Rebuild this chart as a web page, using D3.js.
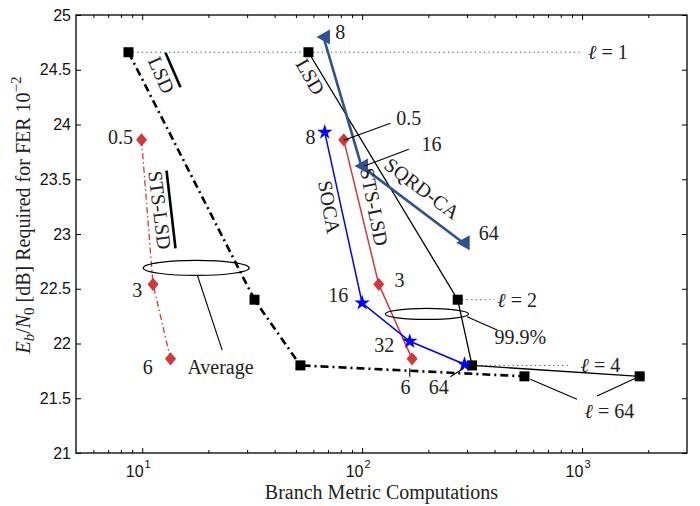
<!DOCTYPE html>
<html>
<head>
<meta charset="utf-8">
<script src="https://cdn.jsdelivr.net/npm/d3@7"></script>
<style>
  body { margin: 0; background: #fff; }
  svg { display: block; }
  .serif { font-family: "Liberation Serif", "DejaVu Serif", serif; font-size: 20px; fill: #222; }
  .tick-label { font-family: "Liberation Sans", Arial, sans-serif; font-size: 16px; fill: #111; }
</style>
</head>
<body>
<svg id="chart" width="700" height="506"></svg>
<script>
// branch metric computations (x) and Eb/N0 in dB (y)
const lsdAvgX = [8.66, 32.4, 52.4, 547];
const lsdAvgY = [24.66, 22.40, 21.80, 21.70];
const lsdPctX = [57.0, 272, 316, 1828];
const lsdPctY = [24.66, 22.40, 21.80, 21.70];
const stsAvgX = [9.93, 11.2, 13.45];
const stsAvgY = [23.86, 22.54, 21.86];
const stsPctX = [82.5, 119, 168.7];
const stsPctY = [23.86, 22.54, 21.86];
const socaX = [67.6, 100, 164.6, 292];
const socaY = [23.93, 22.37, 22.02, 21.81];
const sqrdX = [66.7, 99.3, 288];
const sqrdY = [24.80, 23.62, 22.92];

const yTicks = [21, 21.5, 22, 22.5, 23, 23.5, 24, 24.5, 25];
const xMajor = [10, 100, 1000];
const xMinor = [6, 7, 8, 9, 20, 30, 40, 50, 60, 70, 80, 90, 200, 300, 400, 500, 600, 700, 800, 900, 2000];

// ell = 1, 2, 4 dotted guides: [start x, end x, y, label x]
const ellGuides = [
  { t: "1", x0: 8.66, x1: 1000, y: 24.66, lx: 1065 },
  { t: "2", x0: 272, x1: 399, y: 22.40, lx: 412 },
  { t: "4", x0: 316, x1: 867, y: 21.80, lx: 985 }
];

const numLabels = [
  { t: "0.5", x: 7.97, y: 23.886 },
  { t: "3", x: 9.49, y: 22.489 },
  { t: "6", x: 10.6, y: 21.788 },
  { t: "8", x: 58.2, y: 23.889 },
  { t: "8", x: 79.6, y: 24.847 },
  { t: "16", x: 77.9, y: 22.443 },
  { t: "3", x: 147.7, y: 22.58 },
  { t: "32", x: 126.2, y: 21.986 },
  { t: "6", x: 157.4, y: 21.605 },
  { t: "64", x: 222.9, y: 21.605 },
  { t: "64", x: 376, y: 23.006 },
  { t: "0.5", x: 163, y: 24.06 },
  { t: "16", x: 206.5, y: 23.822 },
  { t: "Average", x: 22.7, y: 21.785 },
  { t: "99.9%", x: 524, y: 22.06 },
  { t: "\u2113 = 64", x: 1331, y: 21.384 }
];

const rotLabels = [
  { t: "LSD", x: 12.24, y: 24.452, a: 66 },
  { t: "STS-LSD", x: 12.05, y: 23.219, a: 83 },
  { t: "LSD", x: 58.2, y: 24.438, a: 60 },
  { t: "STS-LSD", x: 113.7, y: 23.247, a: 79 },
  { t: "SOCA", x: 71, y: 23.247, a: 80 },
  { t: "SQRD-CA", x: 187.4, y: 23.417, a: 37 }
];

// thin leader lines
const leaders = [
  [82.5, 23.856, 134.5, 24.011],
  [102.4, 23.62, 163, 23.774],
  [164.6, 21.774, 164.6, 21.697],
  [251.8, 21.697, 289.7, 21.774],
  [17.8, 22.626, 23.1, 21.94],
  [300, 22.245, 411, 22.123],
  [582, 21.673, 948, 21.49],
  [1170, 21.52, 1778, 21.69]
];
// thick style markers next to the left-hand labels
const styleBars = [
  [12.76, 24.656, 14.93, 24.34],
  [12.9, 23.578, 14.17, 22.869]
];
const ellipses = [
  { x: 17.6, y: 22.69, rx: 53, ry: 7.5 },
  { x: 197, y: 22.27, rx: 41.7, ry: 5.5 }
];

const margin = { left: 76, right: 13, top: 15, bottom: 53 };
const W = 700, H = 506;
const svg = d3.select("#chart");

const x = d3.scaleLog().domain([5, 3000]).range([margin.left, W - margin.right]);
const y = d3.scaleLinear().domain([21, 25]).range([H - margin.bottom, margin.top]);

const RED = "#d2373a", BLUE = "#0000ff", NAVY = "#2f5290";

// ell guides
const guideG = svg.append("g");
guideG.selectAll("line").data(ellGuides).join("line")
  .attr("x1", d => x(d.x0)).attr("x2", d => x(d.x1))
  .attr("y1", d => y(d.y)).attr("y2", d => y(d.y))
  .attr("stroke", "#444").attr("stroke-width", 1)
  .attr("stroke-dasharray", "1.2,3.3");
guideG.selectAll("text").data(ellGuides).join("text")
  .attr("class", "serif")
  .attr("x", d => x(d.lx)).attr("y", d => y(d.y))
  .attr("dominant-baseline", "central")
  .each(function (d) {
    const t = d3.select(this);
    t.append("tspan").attr("font-style", "italic").text("\u2113");
    t.append("tspan").text(" = " + d.t);
  });

function zip(xs, ys) { return xs.map((v, i) => [v, ys[i]]); }
const lineGen = d3.line().x(d => x(d[0])).y(d => y(d[1]));

function drawSeries(xs, ys, color, width, dash) {
  svg.append("path")
    .attr("d", lineGen(zip(xs, ys)))
    .attr("fill", "none")
    .attr("stroke", color)
    .attr("stroke-width", width)
    .attr("stroke-dasharray", dash || null);
}

drawSeries(lsdPctX, lsdPctY, "#000", 1.3);
drawSeries(stsPctX, stsPctY, RED, 1.5);
drawSeries(socaX, socaY, BLUE, 1.5);
drawSeries(sqrdX, sqrdY, NAVY, 2.6);
drawSeries(stsAvgX, stsAvgY, RED, 1.3, "6,3,1.5,3");
drawSeries(lsdAvgX, lsdAvgY, "#000", 2.6, "8,4,2,4");

// markers
function squares(xs, ys) {
  svg.append("g").selectAll("rect").data(zip(xs, ys)).join("rect")
    .attr("x", d => x(d[0]) - 5).attr("y", d => y(d[1]) - 5)
    .attr("width", 10).attr("height", 10).attr("fill", "#000");
}
function diamonds(xs, ys) {
  svg.append("g").selectAll("path").data(zip(xs, ys)).join("path")
    .attr("transform", d => `translate(${x(d[0])},${y(d[1])})`)
    .attr("d", "M0,-6.7L5.5,0L0,6.7L-5.5,0Z").attr("fill", RED);
}
function stars(xs, ys) {
  svg.append("g").selectAll("path").data(zip(xs, ys)).join("path")
    .attr("transform", d => `translate(${x(d[0])},${y(d[1])})`)
    .attr("d", d3.symbol(d3.symbolStar, 75)).attr("fill", BLUE);
}
function leftTriangles(xs, ys) {
  svg.append("g").selectAll("path").data(zip(xs, ys)).join("path")
    .attr("transform", d => `translate(${x(d[0])},${y(d[1])})`)
    .attr("d", "M-7,0L6.5,-7.5L6.5,7.5Z").attr("fill", NAVY);
}
squares(lsdPctX, lsdPctY);
squares(lsdAvgX, lsdAvgY);
diamonds(stsAvgX, stsAvgY);
diamonds(stsPctX, stsPctY);
stars(socaX, socaY);
leftTriangles(sqrdX, sqrdY);

// annotations
const annG = svg.append("g");
annG.selectAll("line.leader").data(leaders).join("line")
  .attr("class", "leader")
  .attr("x1", d => x(d[0])).attr("y1", d => y(d[1]))
  .attr("x2", d => x(d[2])).attr("y2", d => y(d[3]))
  .attr("stroke", "#000").attr("stroke-width", 1.1);
annG.selectAll("line.bar").data(styleBars).join("line")
  .attr("class", "bar")
  .attr("x1", d => x(d[0])).attr("y1", d => y(d[1]))
  .attr("x2", d => x(d[2])).attr("y2", d => y(d[3]))
  .attr("stroke", "#000").attr("stroke-width", 2.6);
annG.selectAll("ellipse").data(ellipses).join("ellipse")
  .attr("cx", d => x(d.x)).attr("cy", d => y(d.y))
  .attr("rx", d => d.rx).attr("ry", d => d.ry)
  .attr("fill", "none").attr("stroke", "#000").attr("stroke-width", 1.2);

annG.selectAll("text.num").data(numLabels).join("text")
  .attr("class", "serif num")
  .attr("x", d => x(d.x)).attr("y", d => y(d.y))
  .attr("text-anchor", "middle").attr("dominant-baseline", "central")
  .each(function (d) {
    const t = d3.select(this);
    if (d.t.startsWith("\u2113")) {
      t.append("tspan").attr("font-style", "italic").text("\u2113");
      t.append("tspan").text(d.t.slice(1));
    } else t.text(d.t);
  });

annG.selectAll("text.rot").data(rotLabels).join("text")
  .attr("class", "serif rot")
  .attr("transform", d => `translate(${x(d.x)},${y(d.y)}) rotate(${d.a})`)
  .attr("text-anchor", "middle").attr("dominant-baseline", "central")
  .text(d => d.t);

// axes box
const axG = svg.append("g");
const x0 = margin.left, x1 = W - margin.right, y0 = H - margin.bottom, y1 = margin.top;
axG.append("rect").attr("x", x0).attr("y", y1).attr("width", x1 - x0).attr("height", y0 - y1)
  .attr("fill", "none").attr("stroke", "#000").attr("stroke-width", 1.3);

const bottomAxis = d3.axisBottom(x).tickValues(xMajor).tickSizeInner(-5).tickSizeOuter(0).tickFormat("");
const topAxis = d3.axisTop(x).tickValues(xMajor).tickSizeInner(-5).tickSizeOuter(0).tickFormat("");
const bottomMinor = d3.axisBottom(x).tickValues(xMinor).tickSizeInner(-3).tickSizeOuter(0).tickFormat("");
const topMinor = d3.axisTop(x).tickValues(xMinor).tickSizeInner(-3).tickSizeOuter(0).tickFormat("");
const leftAxis = d3.axisLeft(y).tickValues(yTicks).tickSizeInner(-5).tickSizeOuter(0).tickFormat("");
const rightAxis = d3.axisRight(y).tickValues(yTicks).tickSizeInner(-5).tickSizeOuter(0).tickFormat("");

[[bottomAxis, `translate(0,${y0})`], [bottomMinor, `translate(0,${y0})`],
 [topAxis, `translate(0,${y1})`], [topMinor, `translate(0,${y1})`],
 [leftAxis, `translate(${x0},0)`], [rightAxis, `translate(${x1},0)`]].forEach(([ax, tr]) => {
  const g = axG.append("g").attr("transform", tr).call(ax);
  g.select(".domain").remove();
  g.selectAll(".tick line").attr("stroke", "#000").attr("stroke-width", 1);
});

// tick labels
axG.selectAll("text.ylab").data(yTicks).join("text")
  .attr("class", "tick-label ylab")
  .attr("x", x0 - 5).attr("y", d => y(d))
  .attr("text-anchor", "end").attr("dominant-baseline", "central")
  .text(d => d3.format("")(d));

axG.selectAll("text.xlab").data(xMajor).join("text")
  .attr("class", "tick-label xlab")
  .attr("x", d => x(d) - 4).attr("y", y0 + 24)
  .attr("text-anchor", "middle")
  .each(function (d) {
    const t = d3.select(this);
    t.append("tspan").text("10");
    t.append("tspan").attr("font-size", "11px").attr("dy", -9).attr("dx", 1).text(Math.round(Math.log10(d)));
  });

// axis titles
svg.append("text").attr("class", "serif")
  .attr("x", (x0 + x1) / 2).attr("y", 499)
  .attr("text-anchor", "middle")
  .text("Branch Metric Computations");

const yTitle = svg.append("text").attr("class", "serif")
  .attr("font-size", "22px")
  .attr("transform", `translate(30,215) rotate(-90)`)
  .attr("text-anchor", "middle");
yTitle.append("tspan").attr("font-style", "italic").text("E");
yTitle.append("tspan").attr("font-style", "italic").attr("font-size", "15px").attr("dy", 4).text("b");
yTitle.append("tspan").attr("dy", -4).text("/");
yTitle.append("tspan").attr("font-style", "italic").text("N");
yTitle.append("tspan").attr("font-size", "15px").attr("dy", 4).text("0");
yTitle.append("tspan").attr("dy", -4).text(" [dB] Required for FER 10");
yTitle.append("tspan").attr("font-size", "15px").attr("dy", -9).text("\u22122");
</script>
</body>
</html>
